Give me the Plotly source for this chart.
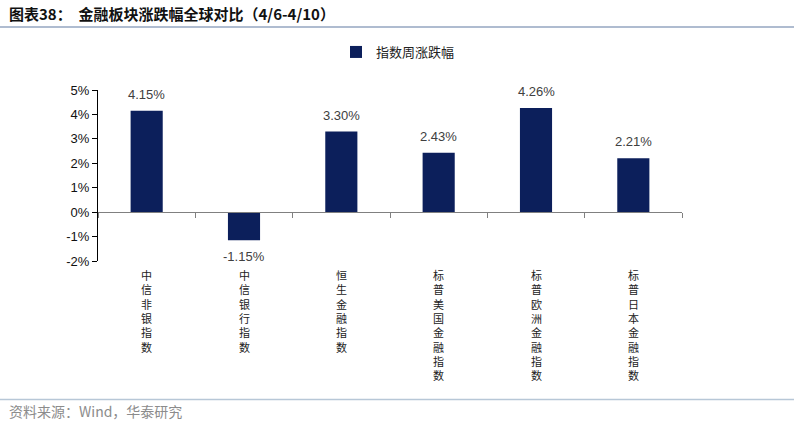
import plotly.graph_objects as go

categories = ["中信非银指数", "中信银行指数", "恒生金融指数", "标普美国金融指数", "标普欧洲金融指数", "标普日本金融指数"]
values = [4.15, -1.15, 3.30, 2.43, 4.26, 2.21]
series_name = "指数周涨跌幅"
y_ticks = [-2, -1, 0, 1, 2, 3, 4, 5]
y_tick_labels = [f"{v}%" for v in y_ticks]

W, H = 800, 423
L, R, T, B = 98, 118, 90, 162
pw, ph = W - L - R, H - T - B

def px_x(p):
    return (p - L) / pw

def px_y(p):
    return (H - B - p) / ph

bar_color = "#0C1F5B"
cjk = "Noto Sans CJK SC"
latin = "Liberation Sans, Arial, sans-serif"

fig = go.Figure()
fig.add_trace(go.Bar(
    x=categories, y=values, name=series_name,
    marker=dict(color=bar_color, line=dict(width=0)),
    width=0.33,
    showlegend=True,
))

annotations = []
for c, v in zip(categories, values):
    annotations.append(dict(
        x=c, xref="x", y=v, yref="y",
        yanchor="bottom" if v >= 0 else "top",
        yshift=7 if v >= 0 else -7,
        text=f"{v:.2f}%", showarrow=False,
        font=dict(family=latin, size=13, color="#404040"),
    ))
for c in categories:
    annotations.append(dict(
        x=c, xref="x", y=0, yref="paper", yanchor="top", yshift=-4,
        text="<br>".join(list(c)), showarrow=False,
        font=dict(family=cjk, size=11, color="#222222"), align="center",
    ))
annotations.append(dict(
    x=px_x(7), xref="paper", xanchor="left", y=px_y(411), yref="paper", yanchor="middle",
    text="资料来源：Wind，华泰研究", showarrow=False,
    font=dict(family=cjk, size=14, color="#8C8C8C"),
))
annotations.append(dict(
    x=px_x(7), xref="paper", xanchor="left", y=px_y(13), yref="paper", yanchor="middle",
    text="<b>图表38：  金融板块涨跌幅全球对比（4/6-4/10）</b>", showarrow=False,
    font=dict(family=cjk, size=15, color="#111111"),
))

shapes = [
    dict(type="line", xref="paper", yref="paper", x0=px_x(0), x1=px_x(794), y0=px_y(27), y1=px_y(27),
         line=dict(color="#94A6C0", width=1.5)),
    dict(type="line", xref="paper", yref="paper", x0=px_x(0), x1=px_x(794), y0=px_y(399.5), y1=px_y(399.5),
         line=dict(color="#B7C7D7", width=1.5)),
]

fig.update_layout(
    width=W, height=H,
    margin=dict(l=L, r=R, t=T, b=B),
    paper_bgcolor="white", plot_bgcolor="white",
    bargap=0.67,
    annotations=annotations,
    shapes=shapes,
    legend=dict(orientation="h", x=px_x(336), xanchor="left", y=px_y(52), yanchor="middle",
                font=dict(family=cjk, size=13, color="#222222"), bgcolor="rgba(0,0,0,0)",
                itemwidth=30, tracegroupgap=0),
    xaxis=dict(
        type="category", anchor="free", position=2 / 7,
        showline=True, linecolor="#808080", linewidth=1,
        ticks="outside", ticklen=5, tickcolor="#808080", tickson="boundaries",
        showticklabels=False, showgrid=False, zeroline=False,
    ),
    yaxis=dict(
        range=[-2, 5], tickvals=y_ticks, ticktext=y_tick_labels,
        showline=True, linecolor="#000000", linewidth=1,
        ticks="outside", ticklen=5, tickcolor="#000000",
        tickfont=dict(family=latin, size=13, color="#111111"),
        showgrid=False, zeroline=False,
    ),
)

fig.write_html("out.html", config={"displayModeBar": False},
               post_script="document.body.style.margin='0';document.body.style.overflow='hidden';")
